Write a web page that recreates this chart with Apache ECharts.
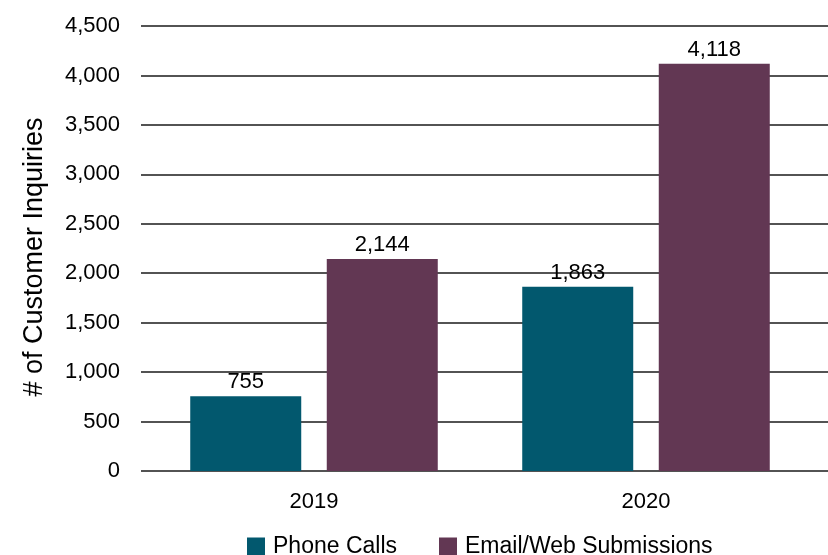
<!DOCTYPE html>
<html>
<head>
<meta charset="utf-8">
<script src="https://cdn.jsdelivr.net/npm/echarts@6/dist/echarts.min.js"></script>
<style>html,body{margin:0;padding:0;background:#fff}#c{width:828px;height:555px}</style>
</head>
<body>
<div id="c"></div>
<script>
const categories = ['2019', '2020'];
const phoneCalls = [755, 1863];
const emailWeb = [2144, 4118];
const seriesNames = ['Phone Calls', 'Email/Web Submissions'];
const yMin = 0, yMax = 4500, yStep = 500;

const FONT = '"Liberation Sans", Arial, sans-serif';
const fmt = v => Number(v).toLocaleString('en-US');
const chart = echarts.init(document.getElementById('c'), null, {renderer: 'canvas'});
chart.setOption({
  animation: false,
  backgroundColor: '#fff',
  textStyle: {fontFamily: FONT},
  grid: [
    {left: 148, right: 16, top: 26, bottom: 84, containLabel: false},
    {left: 141, right: 0, top: 26, bottom: 84, containLabel: false}
  ],
  legend: {
    top: 535, left: 247, padding: 0,
    itemWidth: 18, itemHeight: 18, itemGap: 42,
    icon: 'rect',
    textStyle: {fontFamily: FONT, fontSize: 23, color: '#000', padding: [0, 0, 0, 3]},
    data: seriesNames
  },
  xAxis: [
    {gridIndex: 0, type: 'category', data: categories,
     axisLine: {show: false}, axisTick: {show: false},
     axisLabel: {fontFamily: FONT, fontSize: 22, color: '#000', margin: 20}},
    {gridIndex: 1, type: 'category', data: categories, show: false}
  ],
  yAxis: [
    {gridIndex: 0, type: 'value', min: yMin, max: yMax, interval: yStep, show: false},
    {gridIndex: 1, type: 'value', min: yMin, max: yMax, interval: yStep,
     axisLine: {show: false}, axisTick: {show: false},
     splitLine: {show: true, lineStyle: {color: '#1a1a1a', width: 1.5}},
     axisLabel: {fontFamily: FONT, fontSize: 22, color: '#000', margin: 21, formatter: fmt},
     name: '# of Customer Inquiries', nameLocation: 'middle', nameRotate: 90, nameGap: 93,
     nameTextStyle: {fontFamily: FONT, fontSize: 27, color: '#000', padding: [0, 17, 0, 0]}}
  ],
  series: [
    {name: seriesNames[0], type: 'bar', xAxisIndex: 0, yAxisIndex: 0, data: phoneCalls,
     barWidth: 111, barGap: '23%', itemStyle: {color: '#02586E'},
     label: {show: true, position: 'top', distance: 3, fontFamily: FONT, fontSize: 22, color: '#000', formatter: p => fmt(p.value)}},
    {name: seriesNames[1], type: 'bar', xAxisIndex: 0, yAxisIndex: 0, data: emailWeb,
     barWidth: 111, barGap: '23%', itemStyle: {color: '#623753'},
     label: {show: true, position: 'top', distance: 3, fontFamily: FONT, fontSize: 22, color: '#000', formatter: p => fmt(p.value)}}
  ]
});
</script>
</body>
</html>
